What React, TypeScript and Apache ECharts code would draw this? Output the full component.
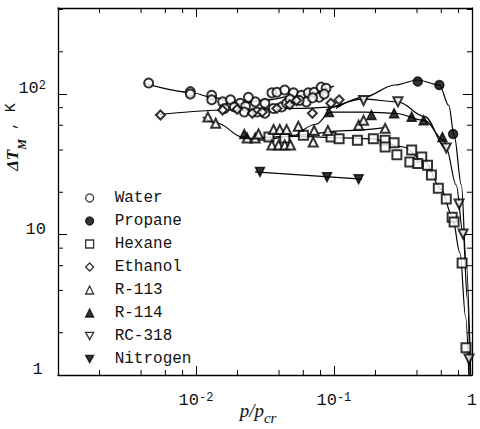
import React, { useEffect, useRef } from 'react';
import * as echarts from 'echarts';

const xMin = 0.001;
const xMax = 1;
const yMin = 1;
const yMax = 410;
const xMinorTicks = [0.002, 0.004, 0.006, 0.008, 0.02, 0.04, 0.06, 0.08, 0.2, 0.4, 0.6, 0.8];
const yMinorTicks = [2, 4, 6, 8, 20, 40, 60, 80, 200, 400];

const waterPts = [
  [0.00454, 120], [0.0091, 104], [0.0091, 100], [0.013, 98], [0.013, 91],
  [0.0156, 88], [0.0178, 91], [0.0209, 86], [0.0229, 82], [0.0269, 88],
  [0.0316, 86], [0.0355, 102], [0.0386, 103], [0.044, 107], [0.0509, 102],
  [0.0581, 98], [0.0652, 102], [0.0719, 103], [0.0807, 112], [0.0877, 110],
  [0.0782, 95], [0.0631, 88], [0.0161, 79], [0.019, 81], [0.0224, 74.5],
  [0.0277, 74.5], [0.0316, 73], [0.0364, 79], [0.0418, 81], [0.0454, 86],
  [0.024, 95], [0.048, 92], [0.056, 90], [0.07, 94], [0.085, 100],
];
const propanePts = [[0.405, 123], [0.581, 116], [0.731, 52]];
const hexanePts = [
  [0.0338, 49.4], [0.044, 48.6], [0.0601, 51], [0.0953, 49.4], [0.109, 48],
  [0.148, 47], [0.193, 48], [0.235, 47], [0.273, 45], [0.235, 42],
  [0.286, 37], [0.366, 40], [0.433, 35.6], [0.355, 32.8], [0.405, 32],
  [0.477, 31.2], [0.509, 26.5], [0.571, 21.4], [0.652, 17.9], [0.719, 13.3],
  [0.743, 12.3], [0.849, 6.27], [0.906, 1.56],
];
const ethanolPts = [
  [0.00553, 71], [0.0156, 77], [0.0199, 78], [0.0256, 73], [0.0302, 74.5],
  [0.0386, 79], [0.0478, 84], [0.0535, 90], [0.0698, 73], [0.095, 86], [0.109, 91],
];
const r113Pts = [
  [0.0122, 68.6], [0.0139, 62], [0.0235, 48.6], [0.0269, 48.6], [0.0284, 52],
  [0.0365, 56], [0.0405, 56], [0.0454, 56], [0.0552, 59], [0.0719, 55],
  [0.0904, 55], [0.0355, 43.4], [0.0397, 43.4], [0.044, 43.4], [0.0484, 43.4],
  [0.0708, 45.5], [0.151, 60], [0.164, 65], [0.235, 57],
];
const r114Pts = [
  [0.0224, 52], [0.092, 74.5], [0.187, 71], [0.273, 73], [0.366, 69], [0.447, 65], [0.611, 49.4],
];
const rc318Pts = [
  [0.164, 90], [0.291, 88], [0.652, 41.3], [0.807, 16.5], [0.863, 10.1], [0.953, 1.3],
];
const nitrogenPts = [[0.0291, 27.9], [0.0891, 25.6], [0.151, 24.8]];

const waterFit = [[0.00418, 120], [0.0091, 103], [0.013, 95], [0.0199, 85], [0.0327, 91], [0.0535, 98], [0.1, 114]];
const ethanolFit = [[0.0051, 71], [0.0169, 77], [0.0535, 79], [0.112, 82]];
const r113Fit = [[0.0112, 68.6], [0.0143, 62], [0.0217, 49.4], [0.0302, 47], [0.0535, 51], [0.122, 55], [0.241, 58]];
const r114Fit = [[0.0535, 51], [0.074, 61], [0.095, 74.5], [0.17, 74.5], [0.277, 73], [0.455, 65], [0.625, 47], [0.66, 40]];
const rc318Fit = [[0.0877, 77], [0.164, 92], [0.291, 88], [0.455, 69], [0.652, 41], [0.77, 22.5], [0.863, 10.1], [0.929, 3.42], [0.968, 1.0]];
const propaneFit = [[0.103, 79], [0.164, 95], [0.277, 116], [0.405, 126], [0.581, 116], [0.68, 83], [0.743, 51], [0.84, 22.5], [0.906, 6.6], [0.98, 1.0]];
const hexaneFit = [[0.029, 49], [0.0535, 50], [0.1, 49], [0.187, 48], [0.32, 42], [0.455, 33], [0.6, 21], [0.72, 13.5], [0.82, 7.4], [0.9, 2.6], [0.95, 1.0]];
const nitrogenFit = [[0.0268, 27.9], [0.16, 24.8]];

const downTri = 'path://M0,0 L10,0 L5,9 Z';
const seriesDefs = [
  { name: 'Water', data: waterPts, symbol: 'emptyCircle', rotate: 0, icon: 'circle', fill: '#fff' },
  { name: 'Propane', data: propanePts, symbol: 'circle', rotate: 0, icon: 'circle', fill: '#000' },
  { name: 'Hexane', data: hexanePts, symbol: 'emptyRect', rotate: 0, icon: 'rect', fill: '#fff' },
  { name: 'Ethanol', data: ethanolPts, symbol: 'emptyDiamond', rotate: 0, icon: 'diamond', fill: '#fff' },
  { name: 'R-113', data: r113Pts, symbol: 'emptyTriangle', rotate: 0, icon: 'triangle', fill: '#fff' },
  { name: 'R-114', data: r114Pts, symbol: 'triangle', rotate: 0, icon: 'triangle', fill: '#000' },
  { name: 'RC-318', data: rc318Pts, symbol: 'emptyTriangle', rotate: 180, icon: downTri, fill: '#fff' },
  { name: 'Nitrogen', data: nitrogenPts, symbol: 'triangle', rotate: 180, icon: downTri, fill: '#000' },
];
const fits = [waterFit, ethanolFit, r113Fit, r114Fit, rc318Fit, propaneFit, hexaneFit, nitrogenFit];

const near = (v: number, p: number) => Math.abs(Math.log10(v) - p) < 1e-6;

export default function App() {
  const ref = useRef<HTMLDivElement>(null);
  useEffect(() => {
    const chart = echarts.init(ref.current!, null, { renderer: 'svg' });
    const tickData: number[][] = [];
    xMinorTicks.forEach((v) => {
      tickData.push([v, yMin, 0, -1]);
      tickData.push([v, yMax, 0, 1]);
    });
    yMinorTicks.forEach((v) => {
      tickData.push([xMin, v, 1, 0]);
      tickData.push([xMax, v, -1, 0]);
    });
    const labelRich = {
      b: { fontSize: 17, fontFamily: 'Liberation Mono', color: '#111', lineHeight: 28, verticalAlign: 'top' },
      sup: { fontSize: 12, fontFamily: 'Liberation Mono', color: '#111', lineHeight: 12, verticalAlign: 'top' },
    };
    const axisCommon = {
      type: 'log',
      logBase: 10,
      axisLine: { lineStyle: { color: '#000', width: 1.3 } },
      axisTick: { inside: true, length: 9, lineStyle: { color: '#000', width: 1 } },
      splitLine: { show: false },
      minorTick: { show: false },
    };
    const option: any = {
      animation: false,
      backgroundColor: '#fff',
      grid: { left: 58, right: 2, top: 8, bottom: 54, containLabel: false },
      xAxis: [
        {
          ...axisCommon,
          min: xMin,
          max: xMax,
          position: 'bottom',
          axisLabel: {
            margin: 17,
            formatter: (v: number) => (near(v, -2) ? '{b|10}{sup|-2}' : near(v, -1) ? '{b|10}{sup|-1}' : near(v, 0) ? '{b|1}' : ''),
            rich: labelRich,
          },
        },
        {
          ...axisCommon,
          min: xMin,
          max: xMax,
          position: 'top',
          axisLabel: { show: false },
        },
      ],
      yAxis: [
        {
          ...axisCommon,
          min: yMin,
          max: yMax,
          position: 'left',
          axisLabel: {
            margin: 12,
            formatter: (v: number) => (near(v, 2) ? '{b|10}{sup|2}' : near(v, 1) ? '{b|10}' : near(v, 0) ? '{b|1} ' : ''),
            rich: labelRich,
          },
        },
        {
          ...axisCommon,
          min: yMin,
          max: yMax,
          position: 'right',
          axisLabel: { show: false },
        },
      ],
      legend: {
        orient: 'vertical',
        left: 80,
        top: 185,
        itemGap: 7,
        itemWidth: 8,
        itemHeight: 8,
        data: seriesDefs.map((s) => ({
          name: s.name,
          icon: s.icon,
          itemStyle: { color: s.fill, borderColor: '#000', borderWidth: 1.3 },
        })),
        textStyle: { fontFamily: 'Liberation Mono', fontSize: 16, color: '#111', lineHeight: 14, padding: [0, 0, 0, 16] },
      },
      graphic: [
        {
          type: 'text',
          x: 16,
          y: 137,
          rotation: Math.PI / 2,
          style: {
            text: '{i|ΔT}{s|M}{n| , K}',
            align: 'center',
            verticalAlign: 'middle',
            rich: {
              i: { fontSize: 17, fontFamily: 'Liberation Serif', fontStyle: 'italic', fontWeight: 'bold', fill: '#111', lineHeight: 24, verticalAlign: 'top' },
              s: { fontSize: 12, fontFamily: 'Liberation Serif', fontStyle: 'italic', fontWeight: 'bold', fill: '#111', lineHeight: 11, verticalAlign: 'bottom' },
              n: { fontSize: 15, fontFamily: 'Liberation Mono', fill: '#111', lineHeight: 24, verticalAlign: 'top' },
            },
          },
        },
        {
          type: 'text',
          x: 258,
          y: 413,
          style: {
            text: '{i|p/p}{s|cr}',
            align: 'center',
            verticalAlign: 'middle',
            rich: {
              i: { fontSize: 19, fontFamily: 'Liberation Serif', fontStyle: 'italic', fill: '#111', lineHeight: 24, verticalAlign: 'top' },
              s: { fontSize: 15, fontFamily: 'Liberation Serif', fontStyle: 'italic', fill: '#111', lineHeight: 12, verticalAlign: 'bottom' },
            },
          },
        },
      ],
      series: [
        ...fits.map((d, i) => ({
          name: 'fit' + i,
          type: 'line',
          data: d,
          showSymbol: false,
          symbol: 'none',
          smooth: 0.35,
          smoothMonotone: 'x',
          silent: true,
          z: 1,
          lineStyle: { color: '#000', width: 1.2 },
        })),
        ...seriesDefs.map((s) => ({
          name: s.name,
          type: 'scatter',
          data: s.data,
          symbol: s.symbol,
          symbolRotate: s.rotate,
          symbolSize: 9,
          z: 3,
          itemStyle: { color: '#000', borderColor: '#000', borderWidth: 1.5 },
        })),
        {
          type: 'custom',
          name: 'minorTicks',
          silent: true,
          clip: false,
          z: 4,
          data: tickData,
          encode: { x: 0, y: 1 },
          renderItem: (params: any, api: any) => {
            const p = api.coord([api.value(0), api.value(1)]);
            return {
              type: 'line',
              shape: { x1: p[0], y1: p[1], x2: p[0] + api.value(2) * 5, y2: p[1] + api.value(3) * 5 },
              style: { stroke: '#000', lineWidth: 1 },
            };
          },
        },
      ],
    };
    chart.setOption(option);
    return () => chart.dispose();
  }, []);
  return <div ref={ref} style={{ position: 'absolute', left: 0, top: 0, width: 480, height: 429, background: '#fff' }} />;
}
